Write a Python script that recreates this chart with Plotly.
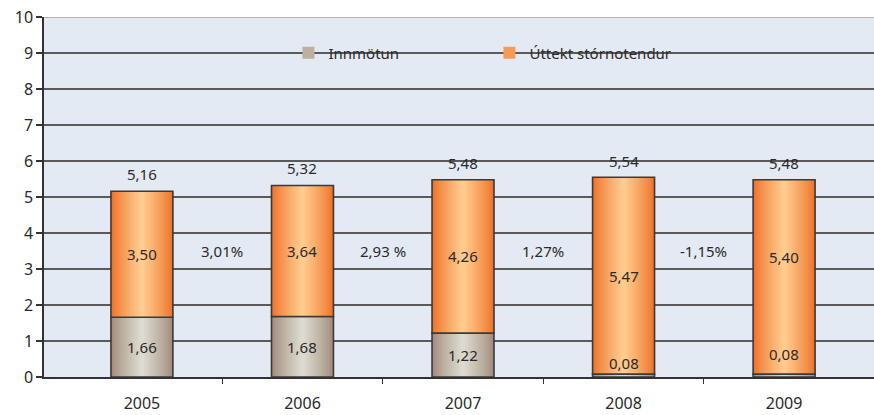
import plotly.graph_objects as go

# ---- data ----
years = ["2005", "2006", "2007", "2008", "2009"]
innmotun = [1.66, 1.68, 1.22, 0.08, 0.08]
uttekt = [3.50, 3.64, 4.26, 5.47, 5.40]
totals = [5.16, 5.32, 5.48, 5.54, 5.48]
growth = ["3,01%", "2,93 %", "1,27%", "-1,15%"]
y_ticks = list(range(0, 11))

series_names = ["Innmötun", "Úttekt stórnotendur"]

# ---- style ----
FONT = "Noto Sans"
TXT = "#2a2a2a"
PLOT_BG = "#E4EAF3"
BAR_W = 0.386
N_STRIPES = 14
brown_edge, brown_center = (163, 140, 124), (221, 218, 208)
orange_edge, orange_center = (239, 116, 42), (255, 203, 142)


def mix(a, b, t):
    return "rgb(%d,%d,%d)" % tuple(round(a[i] + (b[i] - a[i]) * t) for i in range(3))


x = list(range(len(years)))
bases_brown = [0] * len(years)
bases_orange = innmotun

fig = go.Figure()

segments = [
    (innmotun, bases_brown, brown_edge, brown_center),
    (uttekt, bases_orange, orange_edge, orange_center),
]

for vals, bases, c_edge, c_center in segments:
    for k in range(N_STRIPES):
        frac = k / N_STRIPES
        t = (k / (N_STRIPES - 1)) ** 0.85
        fig.add_trace(go.Bar(
            x=x, y=vals, base=bases,
            width=BAR_W * (1 - frac),
            marker=dict(color=mix(c_edge, c_center, t), line=dict(width=0)),
            showlegend=False, hoverinfo="skip",
        ))
    # outline
    fig.add_trace(go.Bar(
        x=x, y=vals, base=bases, width=BAR_W,
        marker=dict(color="rgba(0,0,0,0)", line=dict(color="#3a3a3a", width=1.6)),
        showlegend=False, hoverinfo="skip",
    ))

# legend entries
for name, c_edge, c_center in [(series_names[0], brown_edge, brown_center),
                               (series_names[1], orange_edge, orange_center)]:
    fig.add_trace(go.Bar(
        x=[None], y=[None], name=name,
        marker=dict(color=mix(c_edge, c_center, 0.45), line=dict(width=0)),
    ))

# ---- labels ----
annotations = []
label_font = dict(family=FONT, size=15, color=TXT)
overrides = {(0, 3): 0.39, (0, 4): 0.64, (1, 4): 3.33}
for s, (vals, bases) in enumerate([(innmotun, bases_brown), (uttekt, bases_orange)]):
    for i, v in enumerate(vals):
        yy = overrides.get((s, i), bases[i] + v / 2)
        annotations.append(dict(x=i, y=yy, text=f"{v:.2f}".replace(".", ","),
                                showarrow=False, font=label_font))
for i, tot in enumerate(totals):
    annotations.append(dict(x=i, y=tot, yshift=17, text=f"{tot:.2f}".replace(".", ","),
                            showarrow=False, font=label_font))
for i, g in enumerate(growth):
    annotations.append(dict(x=i + 0.5, y=3.5, text=g, showarrow=False, font=label_font))

fig.update_layout(
    width=874, height=415,
    margin=dict(l=44, r=0, t=17, b=38),
    paper_bgcolor="white", plot_bgcolor=PLOT_BG,
    barmode="overlay",
    font=dict(family=FONT, size=15, color=TXT),
    annotations=annotations,
    legend=dict(orientation="h", x=0.2945, xanchor="left", y=0.9, yanchor="middle",
                bgcolor="rgba(0,0,0,0)", font=dict(family=FONT, size=15, color=TXT),
                entrywidth=156, entrywidthmode="pixels", traceorder="normal"),
    shapes=[dict(type="rect", xref="paper", yref="y", x0=0.258, x1=0.817, y0=8.6, y1=9.4,
                 fillcolor=PLOT_BG, line=dict(width=0), layer="between"),
            dict(type="line", xref="paper", yref="y", x0=0, x1=1, y0=10, y1=10,
                 line=dict(color="#b4b4b4", width=2), layer="above")],
    xaxis=dict(range=[-0.61, 4.56], tickvals=[0.5, 1.5, 2.5, 3.5], ticktext=["", "", "", ""],
               ticks="outside", ticklen=5, tickwidth=1, tickcolor="#333",
               showgrid=False, zeroline=False, showline=True, linecolor="#333", linewidth=1.5),
    xaxis2=dict(range=[-0.61, 4.56], overlaying="x", matches="x", side="bottom",
                tickvals=x, ticktext=years, ticks="", showgrid=False, zeroline=False,
                showline=False, ticklabelstandoff=15,
                tickfont=dict(family=FONT, size=16, color=TXT)),
    yaxis=dict(range=[0, 10], tickvals=y_ticks, ticks="outside", ticklen=6, tickcolor="#333",
               tickwidth=1.5, showgrid=True, gridcolor="#5a5a5a", gridwidth=1.5,
               zeroline=False, showline=True, linecolor="#333", linewidth=1.5,
               tickfont=dict(family=FONT, size=16, color=TXT)),
)
# dummy trace to activate xaxis2
fig.add_trace(go.Scatter(x=[None], y=[None], xaxis="x2", showlegend=False, hoverinfo="skip"))

fig.write_html("out.html", config={"displayModeBar": False},
               post_script="document.body.style.margin='0';")
